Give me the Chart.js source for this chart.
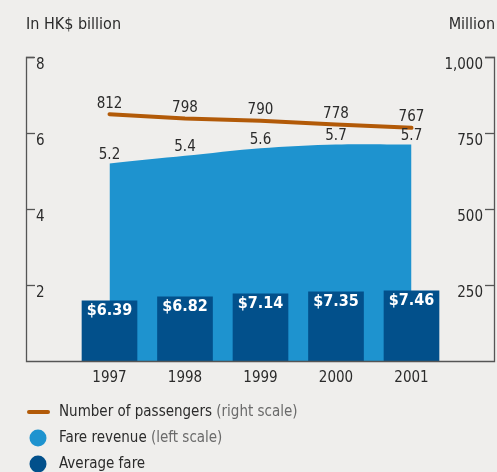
<!DOCTYPE html>
<html>
<head>
<meta charset="utf-8">
<script src="https://cdn.jsdelivr.net/npm/chart.js@4"></script>
<style>
  html, body { margin: 0; padding: 0; background: #efeeec; }
  #wrap { width: 497px; height: 472px; }
</style>
</head>
<body>
<div id="wrap"><canvas id="chart1" width="497" height="472"></canvas></div>
<script>
'use strict';

var years = [1997, 1998, 1999, 2000, 2001];
var passengers = [812, 798, 790, 778, 767];      // million, right scale
var fareRevenue = [5.2, 5.4, 5.6, 5.7, 5.7];     // HK$ billion, left scale
var averageFare = [6.39, 6.82, 7.14, 7.35, 7.46]; // HK$
var leftTicks = [2, 4, 6, 8];
var rightTicks = [250, 500, 750, 1000];

var FONT = "'Liberation Sans Narrow', 'DejaVu Sans Condensed', sans-serif";
var AXIS = '#555555';
var TEXT = '#2b2b2b';

// axes, ticks, value labels, titles and legend
var decorPlugin = {
  id: 'decor',
  afterDatasetsDraw: function (chart) {
    var c = chart.ctx;
    var a = chart.chartArea;
    var x = chart.scales.x, yL = chart.scales.y, yR = chart.scales.y2;
    c.save();

    // axis frame
    c.strokeStyle = AXIS;
    c.lineWidth = 1.3;
    c.beginPath();
    c.moveTo(a.left + 8, a.top + 0.5);
    c.lineTo(a.left + 0.5, a.top + 0.5);
    c.lineTo(a.left + 0.5, a.bottom + 0.5);
    c.lineTo(a.right - 0.5, a.bottom + 0.5);
    c.lineTo(a.right - 0.5, a.top + 0.5);
    c.lineTo(a.right - 10, a.top + 0.5);
    c.stroke();

    c.font = '15px ' + FONT;
    c.fillStyle = TEXT;
    c.textBaseline = 'top';
    leftTicks.forEach(function (v) {
      var py = Math.round(yL.getPixelForValue(v)) + 0.5;
      c.beginPath();
      c.moveTo(a.left, py);
      c.lineTo(a.left + 9, py);
      c.stroke();
      c.textAlign = 'left';
      c.fillText(String(v), a.left + 10, py);
    });
    rightTicks.forEach(function (v) {
      var py = Math.round(yR.getPixelForValue(v)) + 0.5;
      c.beginPath();
      c.moveTo(a.right - 10, py);
      c.lineTo(a.right, py);
      c.stroke();
      c.textAlign = 'right';
      c.fillText(v.toLocaleString('en-US'), a.right - 12, py);
    });

    // x labels
    c.textAlign = 'center';
    c.textBaseline = 'middle';
    years.forEach(function (yr) {
      c.fillText(String(yr), x.getPixelForValue(yr), a.bottom + 17);
    });

    // titles
    c.font = '16px ' + FONT;
    c.textBaseline = 'middle';
    c.textAlign = 'left';
    c.fillText('In HK$ billion', a.left, 25);
    c.textAlign = 'right';
    c.fillText('Million', a.right, 25);

    // value labels
    c.font = '15px ' + FONT;
    c.textAlign = 'center';
    chart.getDatasetMeta(2).data.forEach(function (pt, i) {
      c.textBaseline = 'bottom';
      c.fillText(String(passengers[i]), pt.x, pt.y - 3);
    });
    chart.getDatasetMeta(0).data.forEach(function (pt, i) {
      c.textBaseline = 'bottom';
      c.fillText(fareRevenue[i].toFixed(1), pt.x, pt.y - 1);
    });
    c.font = 'bold 16px ' + FONT;
    c.fillStyle = '#ffffff';
    chart.getDatasetMeta(1).data.forEach(function (bar, i) {
      c.textBaseline = 'top';
      c.fillText('$' + averageFare[i].toFixed(2), bar.x, bar.y + 2);
    });

    // legend
    var items = [
      { main: 'Number of passengers', note: ' (right scale)', color: '#b25a08', type: 'line', y: 412 },
      { main: 'Fare revenue', note: ' (left scale)', color: '#1e93cf', type: 'dot', y: 438 },
      { main: 'Average fare', note: '', color: '#02508b', type: 'dot', y: 464 },
    ];
    items.forEach(function (it) {
      if (it.type === 'line') {
        c.strokeStyle = it.color;
        c.lineWidth = 4;
        c.lineCap = 'round';
        c.beginPath();
        c.moveTo(29, it.y);
        c.lineTo(48, it.y);
        c.stroke();
      } else {
        c.fillStyle = it.color;
        c.beginPath();
        c.arc(38, it.y, 8.5, 0, Math.PI * 2);
        c.fill();
      }
      c.textAlign = 'left';
      c.textBaseline = 'middle';
      c.font = '15px ' + FONT;
      c.fillStyle = TEXT;
      c.fillText(it.main, 59, it.y);
      var w = c.measureText(it.main).width;
      c.fillStyle = '#6a6a6a';
      c.fillText(it.note, 59 + w, it.y);
    });

    c.restore();
  },
};

var ctx = document.getElementById('chart1').getContext('2d');
/* eslint-disable-next-line no-unused-vars */
var myChart = new Chart(ctx, {
  type: 'bar',
  plugins: [decorPlugin],
  data: {
    datasets: [
      {
        type: 'line',
        label: 'Fare revenue',
        data: years.map(function (yr, i) { return { x: yr, y: fareRevenue[i] }; }),
        yAxisID: 'y',
        backgroundColor: '#1e93cf',
        borderWidth: 0,
        fill: 'origin',
        tension: 0.3,
        pointRadius: 0,
        order: 3,
      },
      {
        type: 'bar',
        label: 'Average fare',
        data: years.map(function (yr, i) { return { x: yr, y: averageFare[i] }; }),
        yAxisID: 'yFare',
        backgroundColor: '#02508b',
        barThickness: 55,
        order: 2,
      },
      {
        type: 'line',
        label: 'Number of passengers',
        data: years.map(function (yr, i) { return { x: yr, y: passengers[i] }; }),
        yAxisID: 'y2',
        borderColor: '#b25a08',
        borderWidth: 4,
        borderCapStyle: 'round',
        fill: false,
        pointRadius: 0,
        order: 1,
      },
    ],
  },
  options: {
    responsive: false,
    animation: false,
    layout: {
      padding: { left: 26, right: 2, top: 57, bottom: 111 },
    },
    scales: {
      x: { type: 'linear', display: false, offset: false, min: 1995.894, max: 2002.106 },
      y: { display: false, min: 0, max: 8 },
      y2: { display: false, min: 0, max: 1000 },
      yFare: { display: false, min: 0, max: 32.3 },
    },
    plugins: {
      legend: { display: false },
      tooltip: { enabled: false },
    },
  },
});
</script>
</body>
</html>
